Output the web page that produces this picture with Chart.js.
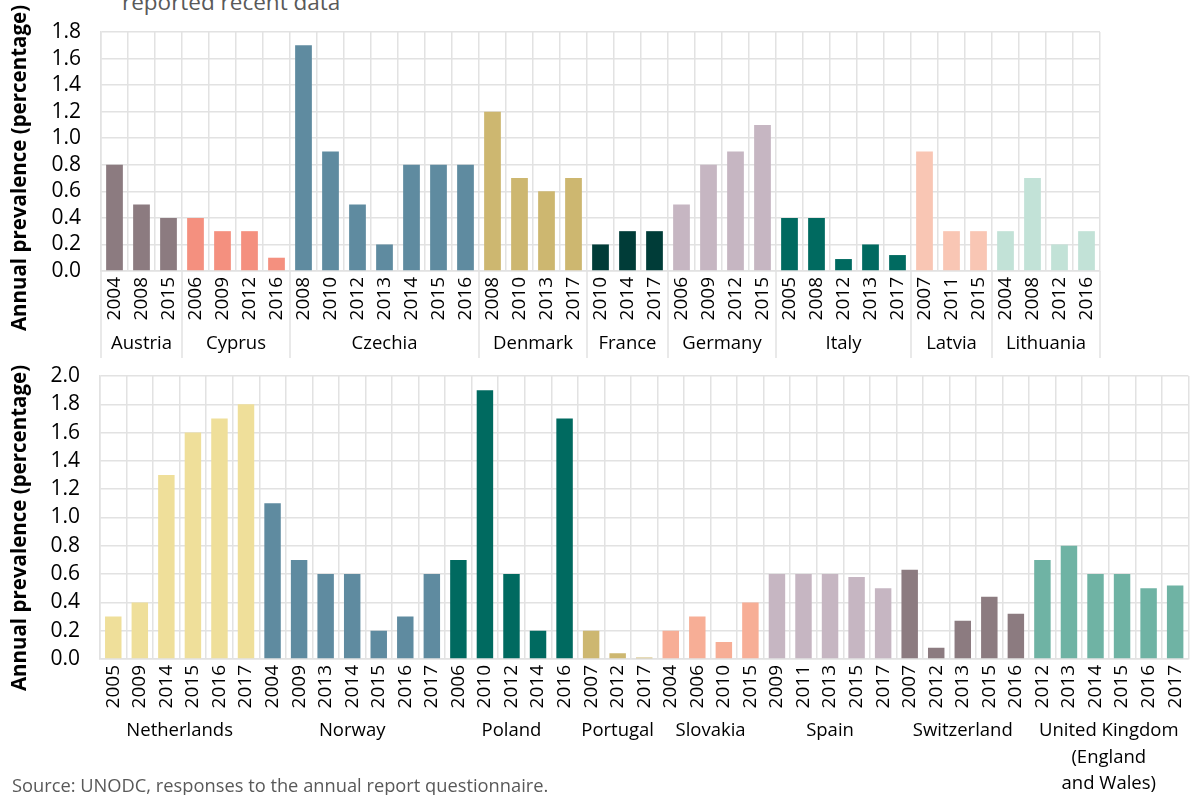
<!DOCTYPE html>
<html>
<head>
<meta charset="utf-8">
<script src="https://cdn.jsdelivr.net/npm/chart.js@4"></script>
<style>
  body { margin: 0; background: #fff; font-family: "Open Sans", sans-serif; }
  #wrap { position: relative; width: 1204px; height: 795px; overflow: hidden; }
  canvas { position: absolute; left: 0; }
  #title { position: absolute; left: 122px; top: -9px; font-size: 22.5px; line-height: 22px; color: #595959; }
  #source { position: absolute; left: 12px; top: 774px; font-size: 18.3px; line-height: 22px; color: #595959; }
</style>
</head>
<body>
<div id="wrap">
  <div id="title">reported recent data</div>
  <canvas id="top" width="1204" height="360" style="top:0"></canvas>
  <canvas id="bottom" width="1204" height="435" style="top:360px"></canvas>
  <div id="source">Source: UNODC, responses to the annual report questionnaire.</div>
</div>
<script>
// top panel
const topCountries = ['Austria', 'Cyprus', 'Czechia', 'Denmark', 'France', 'Germany', 'Italy', 'Latvia', 'Lithuania'];
const topYears = [
  ['2004', '2008', '2015'],
  ['2006', '2009', '2012', '2016'],
  ['2008', '2010', '2012', '2013', '2014', '2015', '2016'],
  ['2008', '2010', '2013', '2017'],
  ['2010', '2014', '2017'],
  ['2006', '2009', '2012', '2015'],
  ['2005', '2008', '2012', '2013', '2017'],
  ['2007', '2011', '2015'],
  ['2004', '2008', '2012', '2016']
];
const topValues = [
  [0.8, 0.5, 0.4],
  [0.4, 0.3, 0.3, 0.1],
  [1.7, 0.9, 0.5, 0.2, 0.8, 0.8, 0.8],
  [1.2, 0.7, 0.6, 0.7],
  [0.2, 0.3, 0.3],
  [0.5, 0.8, 0.9, 1.1],
  [0.4, 0.4, 0.09, 0.2, 0.12],
  [0.9, 0.3, 0.3],
  [0.3, 0.7, 0.2, 0.3]
];
const topColors = ['#8c7b80', '#f4907f', '#5f8ba0', '#cdb770', '#003c38', '#c6b6c2', '#006a60', '#f9c6b4', '#c2e2d7'];

// bottom panel
const bottomCountries = ['Netherlands', 'Norway', 'Poland', 'Portugal', 'Slovakia', 'Spain', 'Switzerland', ['United Kingdom', '(England', 'and Wales)']];
const bottomYears = [
  ['2005', '2009', '2014', '2015', '2016', '2017'],
  ['2004', '2009', '2013', '2014', '2015', '2016', '2017'],
  ['2006', '2010', '2012', '2014', '2016'],
  ['2007', '2012', '2017'],
  ['2004', '2006', '2010', '2015'],
  ['2009', '2011', '2013', '2015', '2017'],
  ['2007', '2012', '2013', '2015', '2016'],
  ['2012', '2013', '2014', '2015', '2016', '2017']
];
const bottomValues = [
  [0.3, 0.4, 1.3, 1.6, 1.7, 1.8],
  [1.1, 0.7, 0.6, 0.6, 0.2, 0.3, 0.6],
  [0.7, 1.9, 0.6, 0.2, 1.7],
  [0.2, 0.04, 0.01],
  [0.2, 0.3, 0.12, 0.4],
  [0.6, 0.6, 0.6, 0.58, 0.5],
  [0.63, 0.08, 0.27, 0.44, 0.32],
  [0.7, 0.8, 0.6, 0.6, 0.5, 0.52]
];
const bottomColors = ['#efdf9a', '#5f8ba0', '#006a60', '#cdb770', '#f7ae96', '#c6b6c2', '#8c7b80', '#6fb3a4'];

const yTitle = 'Annual prevalence (percentage)';
const gridColor = '#e2e2e2';

Chart.defaults.font.family = '"Open Sans", sans-serif';
Chart.defaults.color = '#000';

// country names under the years, plus separators and the y title
const groupPlugin = {
  id: 'groups',
  afterDraw(chart, args, opts) {
    const ctx = chart.ctx;
    const xs = chart.scales.x;
    const step = xs.getPixelForValue(1) - xs.getPixelForValue(0);
    ctx.save();
    ctx.fillStyle = '#000';
    ctx.textAlign = 'center';
    ctx.textBaseline = 'middle';
    ctx.font = '18.5px "Open Sans"';
    let idx = 0;
    opts.counts.forEach((n, g) => {
      const left = xs.getPixelForValue(idx) - step / 2;
      const right = xs.getPixelForValue(idx + n - 1) + step / 2;
      const name = opts.names[g];
      const lines = Array.isArray(name) ? name : [name];
      lines.forEach((t, k) => ctx.fillText(t, (left + right) / 2, opts.labelY + k * 26.5));
      if (opts.separators) {
        ctx.strokeStyle = gridColor;
        ctx.lineWidth = 1.5;
        ctx.beginPath();
        ctx.moveTo(left, xs.top);
        ctx.lineTo(left, opts.sepBottom);
        if (g === opts.counts.length - 1) {
          ctx.moveTo(right, xs.top);
          ctx.lineTo(right, opts.sepBottom);
        }
        ctx.stroke();
      }
      idx += n;
    });
    // y axis title
    ctx.translate(opts.titleX, opts.titleY);
    ctx.rotate(-Math.PI / 2);
    ctx.font = 'bold 20.5px "Open Sans"';
    ctx.fillText(yTitle, 0, 0);
    ctx.restore();
  }
};

function makeChart(id, years, values, colors, names, yMax, pad, xHeight, groupOpts) {
  const labels = years.flat();
  const data = values.flat();
  const bg = [];
  years.forEach((ys, i) => ys.forEach(() => bg.push(colors[i])));
  return new Chart(document.getElementById(id), {
    type: 'bar',
    data: {
      labels: labels,
      datasets: [{
        data: data,
        backgroundColor: bg,
        barPercentage: 0.62,
        categoryPercentage: 1
      }]
    },
    options: {
      responsive: false,
      animation: false,
      layout: { padding: pad },
      plugins: {
        legend: { display: false },
        tooltip: { enabled: false },
        groups: Object.assign({ counts: years.map(y => y.length), names: names }, groupOpts)
      },
      scales: {
        x: {
          grid: { color: gridColor, lineWidth: 1.5, drawTicks: false, offset: true },
          border: { color: gridColor, width: 1.5 },
          ticks: { autoSkip: false, maxRotation: 90, minRotation: 90, padding: 6, font: { size: 19 }, color: '#000' },
          afterFit(scale) { scale.height = xHeight; }
        },
        y: {
          min: 0,
          max: yMax,
          grid: { color: gridColor, lineWidth: 1.5, drawTicks: false },
          border: { color: gridColor, width: 1.5 },
          ticks: { stepSize: 0.2, autoSkip: false, padding: 20, font: { size: 21 }, color: '#000',
            callback: v => v.toFixed(1) },
          afterFit(scale) {
            scale.width = pad.yWidth;
            // keep the plot top where the padding puts it
            scale.paddingTop = 8;
            scale.paddingBottom = 8;
          }
        }
      }
    },
    plugins: [groupPlugin]
  });
}

makeChart('top', topYears, topValues, topColors, topCountries, 1.8,
  { top: 32, right: 104, bottom: 0, left: 0, yWidth: 101 }, 89,
  { labelY: 344, separators: true, sepBottom: 358, titleX: 20, titleY: 168 });

makeChart('bottom', bottomYears, bottomValues, bottomColors, bottomCountries, 2.0,
  { top: 16, right: 4, bottom: 0, left: 0, yWidth: 100 }, 136,
  { labelY: 371, separators: false, sepBottom: 0, titleX: 20, titleY: 168 });
</script>
</body>
</html>
